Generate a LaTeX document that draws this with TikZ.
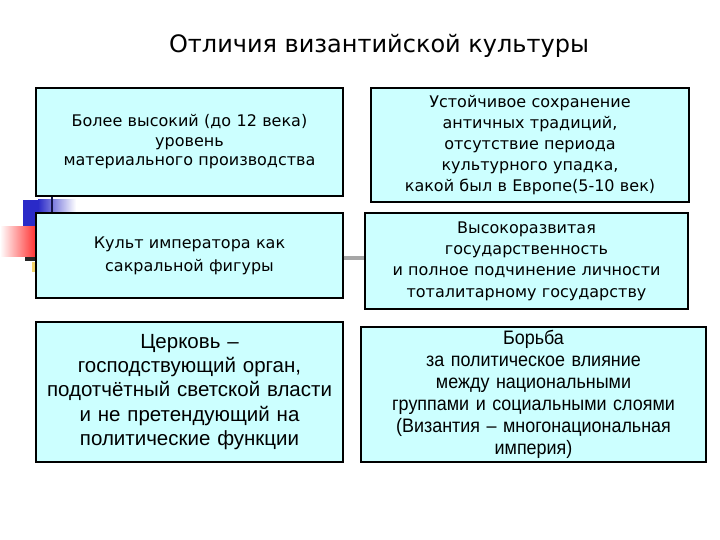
\documentclass[tikz,border=0pt]{standalone}
\usepackage{fontspec}
\setmainfont{DejaVu Sans}
\newfontfamily\arialf{Liberation Sans}
\newfontfamily\narrowf[FakeStretch=0.92]{Liberation Sans}
\definecolor{boxfill}{HTML}{CCFFFF}
\definecolor{tplblue}{HTML}{2A2AC8}
\definecolor{tplred}{HTML}{FF2A2A}
\definecolor{tplnavy}{HTML}{14144A}
\definecolor{tplyellow}{HTML}{F2D46A}
\begin{document}
\begin{tikzpicture}[x=1pt,y=-1pt,
  infobox/.style={draw=black, line width=1.3pt, fill=boxfill, inner sep=0pt, align=center},
  bar/.style={draw=gray!70, line width=4pt}]
\useasboundingbox (0,0) rectangle (720,540);
% template decoration
\fill[tplblue] (23,200) rectangle (40,227);
\shade[left color=tplblue, right color=white] (38,200) rectangle (76,223);
\shade[left color=white, right color=tplred] (0,227) rectangle (37,256);
\draw[tplnavy, line width=2.5pt] (52,190) -- (52,216);
\fill[black!85] (25,257) rectangle (37,261);
\fill[tplyellow] (32,262) rectangle (37,272);
% title
\node[font=\fontsize{24}{28}\selectfont] (title) at (379,46) {Отличия византийской культуры};
% boxes
\node[infobox, minimum width=307, minimum height=108, text width=300,
  font=\fontsize{16}{19.5}\selectfont] (b1) at (189.5,142)
  {Более высокий (до 12 века)\\уровень\\материального производства};
\node[infobox, minimum width=318, minimum height=114, text width=310,
  font=\fontsize{16}{21.2}\selectfont] (b2) at (530,145)
  {Устойчивое сохранение\\античных традиций,\\отсутствие периода\\культурного упадка,\\какой был в Европе(5-10 век)};
\node[infobox, minimum width=307, minimum height=85, text width=300,
  font=\fontsize{16}{23}\selectfont] (b3) at (189.5,255.5)
  {Культ императора как\\сакральной фигуры};
\node[infobox, minimum width=323, minimum height=96, text width=315,
  font=\fontsize{16}{21.3}\selectfont] (b4) at (526.5,261)
  {Высокоразвитая\\государственность\\и полное подчинение личности\\тоталитарному государству};
\node[infobox, minimum width=307, minimum height=140, text width=300,
  font=\arialf\fontsize{20.5}{24.2}\selectfont] (b5) at (189.5,392)
  {Церковь –\\господствующий орган,\\подотчётный светской власти\\и не претендующий на\\политические функции};
\node[infobox, minimum width=345, minimum height=135, text width=338,
  font=\narrowf\fontsize{19.5}{22}\selectfont] (b6) at (533.5,394.5)
  {Борьба\\за политическое влияние\\между национальными\\группами и социальными слоями\\(Византия – многонациональная\\империя)};
% connector
\draw[bar] (b3.east |- 0,258) -- (b4.west |- 0,258);
\end{tikzpicture}
\end{document}
